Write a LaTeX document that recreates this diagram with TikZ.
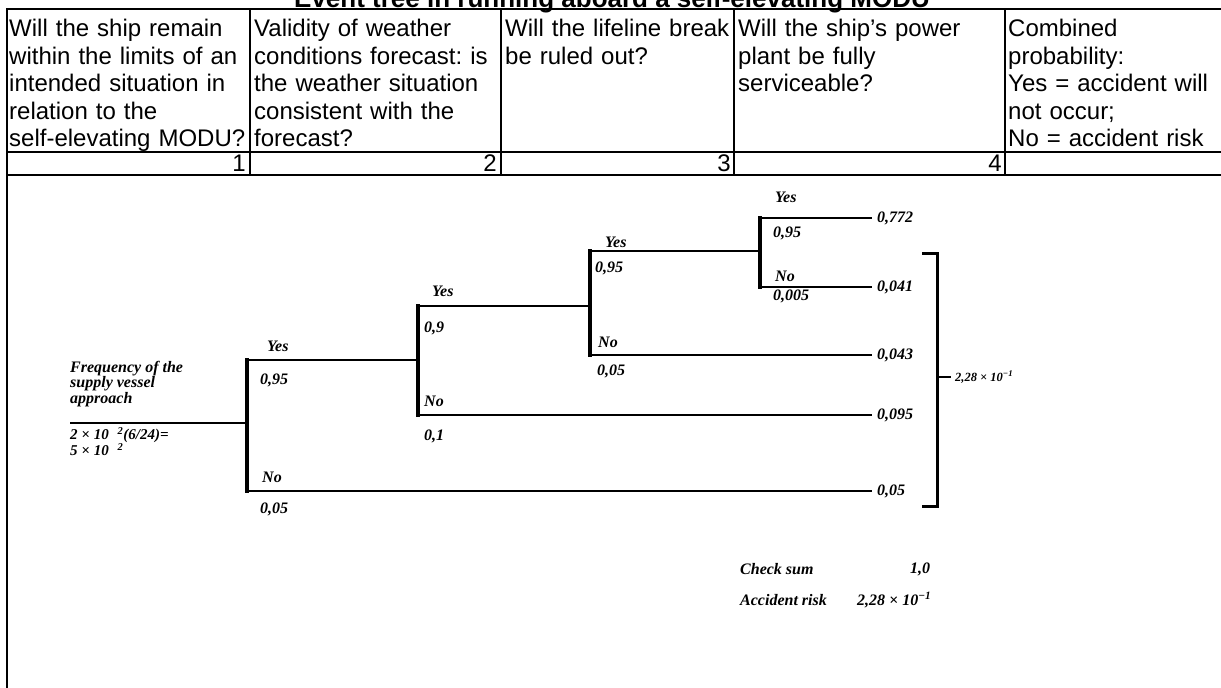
\documentclass[tikz,border=0pt]{standalone}
\usepackage{fontspec}
\setmainfont{Liberation Sans}
\newfontfamily\scanfont{Liberation Serif}
\usetikzlibrary{positioning}
\frenchspacing
\tikzset{
  rule/.style={line width=1.6pt},
  cell/.style={anchor=north west, inner sep=0pt, text width=250pt, align=left, font=\fontsize{24}{27.6}\selectfont},
  colno/.style={anchor=base east, inner sep=0pt, font=\fontsize{24}{27.6}\selectfont},
  lbl/.style={inner sep=0pt, font=\scanfont\bfseries\itshape\fontsize{16}{14.5}\selectfont},
  small/.style={inner sep=0pt, font=\scanfont\bfseries\itshape\fontsize{12.5}{12.5}\selectfont},
  branch/.style={line width=2.4pt, line cap=rect},
  fork/.style={line width=3.6pt, line cap=rect},
}
\begin{document}
\begin{tikzpicture}[x=1pt, y=-1pt]
  \useasboundingbox (0,0) rectangle (1221,688);
  \node[anchor=base, inner sep=0pt, font=\bfseries\fontsize{26}{30}\selectfont] (title) at (612,7) {Event tree in running aboard a self-elevating MODU};
  \foreach \yy in {9,152,175} \draw[rule] (6,\yy) -- (1221,\yy);
  \foreach \xx in {250,501,734,1005} \draw[rule] (\xx,9) -- (\xx,175);
  \draw[rule] (7,9) -- (7,688);
  \foreach \xx/\nn/\txt in {9/1/{Will the ship remain\\within the limits of an\\intended situation in\\relation to the\\self-elevating MODU?},
      254/2/{Validity of weather\\conditions forecast: is\\the weather situation\\consistent with the\\forecast?},
      505/3/{Will the lifeline break\\be ruled out?},
      738/4/{Will the ship's power\\plant be fully\\serviceable?},
      1008/5/{Combined\\probability:\\Yes = accident will\\not occur;\\No = accident risk}}
    \node[cell] (hd\nn) at (\xx,19) {\txt};
  \foreach \nn/\xx in {1/246,2/497,3/731,4/1002}
    \node[colno] (no\nn) at (\xx,171) {\nn};

  \coordinate (r0) at (70,423);
  \coordinate (fa) at (247,423);
  \coordinate (fay) at (247,360); \coordinate (fan) at (247,491);
  \coordinate (fb) at (418,360); \coordinate (fby) at (418,306); \coordinate (fbn) at (418,415);
  \coordinate (fc) at (590,306); \coordinate (fcy) at (590,251); \coordinate (fcn) at (590,355);
  \coordinate (fd) at (760,251); \coordinate (fdy) at (760,218); \coordinate (fdn) at (760,287);
  \foreach \ee/\yy in {1/218,2/287,3/355,4/415,5/491}
    \coordinate (e\ee) at (871,\yy);

  \draw[line width=2pt] (r0) -- (fa);
  \draw[fork] (fay) -- (fan);
  \draw[branch] (fay) -- (fb);
  \draw[branch] (fan) -- (e5);
  \draw[fork] (fby) -- (fbn);
  \draw[branch] (fby) -- (fc);
  \draw[branch] (fbn) -- (e4);
  \draw[fork] (fcy) -- (fcn);
  \draw[branch] (fcy) -- (fd);
  \draw[branch] (fcn) -- (e3);
  \draw[fork] (fdy) -- (fdn);
  \draw[branch] (fdy) -- (e1);
  \draw[branch] (fdn) -- (e2);

  \node[lbl, above right=8pt and 20pt of fay] (ya) {Yes};
  \node[lbl, below right=14pt and 13pt of fay] (pya) {0,95};
  \node[lbl, above right=8pt and 15pt of fan] (na) {No};
  \node[lbl, below right=12pt and 13pt of fan] (pna) {0,05};
  \node[lbl, above right=9pt and 14pt of fby] (yb) {Yes};
  \node[lbl, below right=16pt and 6pt of fby] (pyb) {0,9};
  \node[lbl, above right=8pt and 6pt of fbn] (nb) {No};
  \node[lbl, below right=15pt and 6pt of fbn] (pnb) {0,1};
  \node[lbl, above right=3pt and 15pt of fcy] (yc) {Yes};
  \node[lbl, below right=11pt and 5pt of fcy] (pyc) {0,95};
  \node[lbl, above right=7pt and 8pt of fcn] (nc) {No};
  \node[lbl, below right=10pt and 7pt of fcn] (pnc) {0,05};
  \node[lbl, above right=15pt and 15pt of fdy] (yd) {Yes};
  \node[lbl, below right=9pt and 13pt of fdy] (pyd) {0,95};
  \node[lbl, above right=5pt and 15pt of fdn] (nd) {No};
  \node[lbl, below right=3pt and 13pt of fdn] (pnd) {0,005};

  \node[lbl, right=6pt of e1] (q1) {0,772};
  \node[lbl, right=6pt of e2] (q2) {0,041};
  \node[lbl, right=6pt of e3] (q3) {0,043};
  \node[lbl, right=6pt of e4] (q4) {0,095};
  \node[lbl, right=6pt of e5] (q5) {0,05};

  \node[lbl, anchor=south west, align=left] (freq) at (70,407) {Frequency of the\\supply vessel\\approach};
  \node[lbl, anchor=north west, align=left, font=\scanfont\bfseries\itshape\fontsize{15}{12}\selectfont] (rate) at (70,427) {2 × 10\hspace{9pt}\textsuperscript{2}(6/24)=\\5 × 10\hspace{9pt}\textsuperscript{2}};

  \coordinate (bt) at (922,253);
  \coordinate (bb) at (922,506);
  \coordinate (bk) at (937,377);
  \draw[line width=3pt] (bt) -- ++(15,0) |- (bb);
  \node[small, anchor=west] (tot) at (955,377) {2,28 × 10\textsuperscript{−1}};
  \draw[line width=1.6pt] (bk) -- ([xshift=-4pt]tot.west);

  \node[lbl, anchor=west] (chk) at (740,569) {Check sum};
  \node[lbl, anchor=west] (chkv) at (910,569) {1,0};
  \node[lbl, anchor=west] (risk) at (740,600) {Accident risk};
  \node[lbl, anchor=west] (riskv) at (857,600) {2,28 × 10\textsuperscript{−1}};
\end{tikzpicture}
\end{document}
